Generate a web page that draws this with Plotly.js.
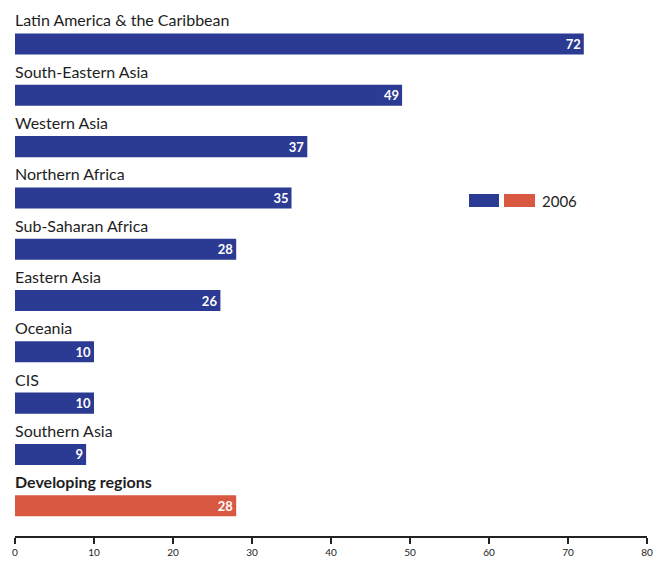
<!DOCTYPE html>
<html>
<head>
<meta charset="utf-8">
<script src="https://cdn.plot.ly/plotly-3.0.1.min.js"></script>
<style>html,body{margin:0;padding:0;background:#fff;}#chart{width:654px;height:561px;}</style>
</head>
<body>
<div id="chart"></div>
<script>
const categories = ["Latin America & the Caribbean","South-Eastern Asia","Western Asia","Northern Africa","Sub-Saharan Africa","Eastern Asia","Oceania","CIS","Southern Asia","Developing regions"];
const values2006 = [72,49,37,35,28,26,10,10,9,28];
const aggregateCategory = "Developing regions";
const xTicks = [0,10,20,30,40,50,60,70,80];
const legendLabel = "2006";

const BLUE = "#2b3a93", RED = "#d95842";
const idx = categories.map((c,i)=>i);
const colors = categories.map(c => c === aggregateCategory ? RED : BLUE);

const trace = {
  type: "bar", orientation: "h",
  x: values2006, y: idx,
  width: 0.41,
  marker: {color: colors, line: {width: 0}},
  text: values2006.map(String),
  textposition: "inside", insidetextanchor: "end", textangle: 0,
  textfont: {family: "Lato, sans-serif", size: 13, color: "#fff", weight: "bold"},
  constraintext: "none",
  hoverinfo: "skip", showlegend: false
};

const annotations = categories.map((c,i)=>({
  x: 0, y: i - 0.47, xref: "x", yref: "y", text: c, showarrow: false,
  xanchor: "left", yanchor: "middle", xshift: -2,
  font: {family: "Lato, sans-serif", size: 16, color: "#1e1e1e", weight: c === aggregateCategory ? "bold" : "normal"}
}));

const pw = 654 - 15 - 7, ph = 561 - 25;
function px(x){return (x-15)/pw;} function py(y){return (536-y)/ph;}
annotations.push({
  x: px(540), y: py(201), xref: "paper", yref: "paper", text: legendLabel, showarrow: false,
  xanchor: "left", yanchor: "middle", font: {family: "Lato, sans-serif", size: 15, color: "#222"}
});

const layout = {
  width: 654, height: 561,
  margin: {l: 15, r: 7, t: 0, b: 25},
  paper_bgcolor: "#fff", plot_bgcolor: "#fff",
  xaxis: {range: [0, 80], tickvals: xTicks, ticktext: xTicks.map(String),
    showgrid: false, zeroline: false, showline: true, linecolor: "#222", linewidth: 1.5,
    ticks: "outside", ticklen: 6, tickwidth: 1.5, tickcolor: "#222",
    tickfont: {family: "Lato, sans-serif", size: 10, color: "#222"}, fixedrange: true},
  yaxis: {range: [9.59, -0.858], showgrid: false, zeroline: false, showticklabels: false,
    showline: false, ticks: "", fixedrange: true},
  annotations: annotations,
  shapes: [
    {type: "rect", xref: "paper", yref: "paper", x0: px(469), x1: px(499), y0: py(207), y1: py(194), fillcolor: BLUE, line: {width: 0}},
    {type: "rect", xref: "paper", yref: "paper", x0: px(504), x1: px(535), y0: py(207), y1: py(194), fillcolor: RED, line: {width: 0}}
  ],
  showlegend: false
};

Plotly.newPlot("chart", [trace], layout, {displayModeBar: false, staticPlot: true});
</script>
</body>
</html>
